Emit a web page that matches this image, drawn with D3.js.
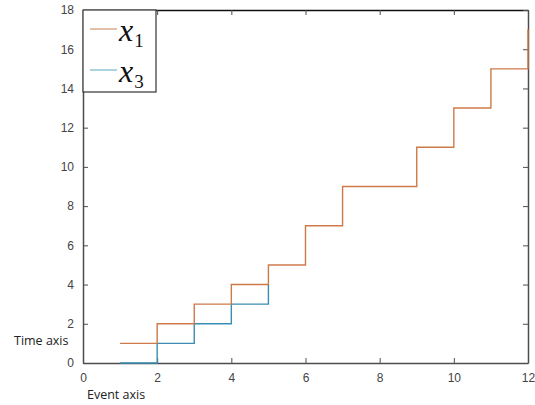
<!DOCTYPE html>
<html>
<head>
<meta charset="utf-8">
<script src="https://cdn.jsdelivr.net/npm/d3@7"></script>
<style>
  body { margin: 0; background: #fff; }
  svg { display: block; }
</style>
</head>
<body>
<div id="chart"></div>
<script>
// event index for each series
var events1 = [1, 2, 3, 4, 5, 6, 7, 8, 9, 10, 11, 12];
var times1  = [1, 2, 3, 4, 5, 7, 9, 9, 11, 13, 15, 17];
var events3 = [1, 2, 3, 4, 5];
var times3  = [0, 1, 2, 3, 4];
var xTicks = [0, 2, 4, 6, 8, 10, 12];
var yTicks = [0, 2, 4, 6, 8, 10, 12, 14, 16, 18];

function init() {
    var w = 535, h = 405;
    var left = 83, right = 528, top = 10, bottom = 363;

    var svg = d3.select("#chart").append("svg")
        .attr("width", w)
        .attr("height", h);

    var xScale = d3.scaleLinear().domain([0, 12]).range([left, right]);
    var yScale = d3.scaleLinear().domain([0, 18]).range([bottom, top]);

    var axisColor = "#4d4d4d";
    var tickFont = "'Liberation Sans', Arial, sans-serif";

    // bottom + left axes with labels, ticks pointing in
    var xAxis = svg.append("g")
        .attr("transform", "translate(0," + bottom + ")")
        .call(d3.axisBottom(xScale).tickValues(xTicks).tickSize(-5).tickPadding(10).tickSizeOuter(0));
    var yAxis = svg.append("g")
        .attr("transform", "translate(" + left + ",0)")
        .call(d3.axisLeft(yScale).tickValues(yTicks).tickSize(-5).tickPadding(9).tickSizeOuter(0));
    // top + right: ticks only
    var xTop = svg.append("g")
        .attr("transform", "translate(0," + top + ")")
        .call(d3.axisTop(xScale).tickValues(xTicks).tickSize(-5).tickFormat("").tickSizeOuter(0));
    var yRight = svg.append("g")
        .attr("transform", "translate(" + right + ",0)")
        .call(d3.axisRight(yScale).tickValues(yTicks).tickSize(-5).tickFormat("").tickSizeOuter(0));

    [xAxis, yAxis, xTop, yRight].forEach(function(g) {
        g.select(".domain").attr("stroke", axisColor).attr("stroke-width", 1.5);
        g.selectAll(".tick line").attr("stroke", axisColor);
        g.selectAll(".tick text")
            .attr("fill", "#444")
            .style("font-family", tickFont)
            .style("font-size", "12px");
    });
    xTop.select(".domain").attr("stroke", "#111");

    var line = d3.line()
        .x(function(d) { return xScale(d[0]); })
        .y(function(d) { return yScale(d[1]); })
        .curve(d3.curveStepAfter);

    var series3 = events3.map(function(e, i) { return [e, times3[i]]; });
    var series1 = events1.map(function(e, i) { return [e, times1[i]]; });

    svg.append("path")
        .datum(series3)
        .attr("d", line)
        .attr("fill", "none")
        .attr("stroke", "#3a8db4")
        .attr("stroke-width", 1.4);

    svg.append("path")
        .datum(series1)
        .attr("d", line)
        .attr("fill", "none")
        .attr("stroke", "#cd7a48")
        .attr("stroke-width", 1.4);

    // axis captions
    var capFont = "'Open Sans', 'Noto Sans', sans-serif";
    svg.append("text")
        .attr("x", 14).attr("y", 345)
        .style("font-family", capFont).style("font-size", "12.5px")
        .attr("fill", "#222")
        .text("Time axis");
    svg.append("text")
        .attr("x", 87).attr("y", 399)
        .style("font-family", capFont).style("font-size", "12.5px")
        .attr("fill", "#222")
        .text("Event axis");

    // legend
    var legend = svg.append("g");
    legend.append("rect")
        .attr("x", 83).attr("y", 10)
        .attr("width", 73).attr("height", 82)
        .attr("fill", "#fff")
        .attr("stroke", "#333")
        .attr("stroke-width", 1.2);

    var entries = [
        { sub: "1", color: "#d9ab8e", y: 29 },
        { sub: "3", color: "#92c4d4", y: 70 }
    ];
    entries.forEach(function(e) {
        legend.append("line")
            .attr("x1", 90).attr("x2", 117)
            .attr("y1", e.y).attr("y2", e.y)
            .attr("stroke", e.color)
            .attr("stroke-width", 1.5);
        var t = legend.append("text")
            .attr("x", 119).attr("y", e.y + 12)
            .style("font-family", "'Liberation Serif', 'DejaVu Serif', serif")
            .attr("fill", "#111");
        t.append("tspan")
            .style("font-style", "italic")
            .style("font-size", "32px")
            .text("x");
        t.append("tspan")
            .attr("dx", 1)
            .attr("dy", 6)
            .style("font-style", "normal")
            .style("font-size", "19px")
            .text(e.sub);
    });
}

window.onload = init;
</script>
</body>
</html>
